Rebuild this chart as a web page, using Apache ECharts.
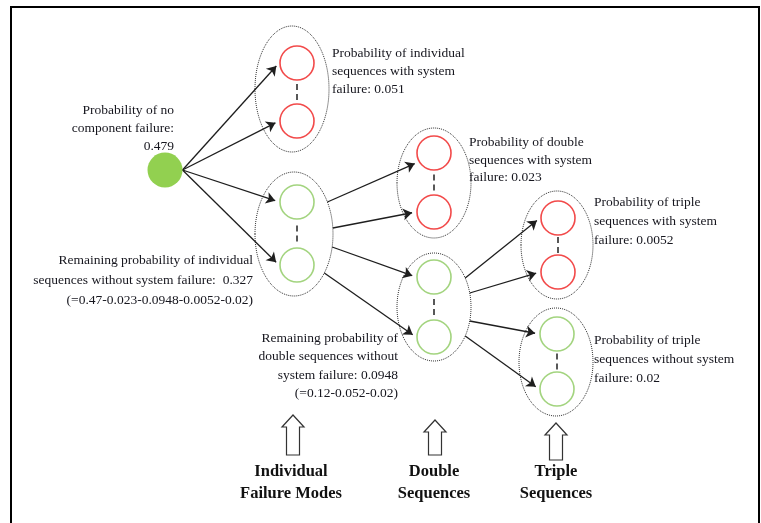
<!DOCTYPE html>
<html>
<head>
<meta charset="utf-8">
<script src="https://cdn.jsdelivr.net/npm/echarts@6/dist/echarts.min.js"></script>
<style>
html,body{margin:0;padding:0;background:#fff;}
#chart{width:761px;height:523px;}
</style>
</head>
<body>
<div id="chart"></div>
<script>
// ---------- DATA ----------
const rootProbability = 0.479;
const orderWords = ['individual', 'double', 'triple'];
const failureProb = [0.051, 0.023, 0.0052];
const survivingProb = [0.327, 0.0948, 0.02];
const survivingFormula = ['(=0.47-0.023-0.0948-0.0052-0.02)', '(=0.12-0.052-0.02)'];
const stageNames = [['Individual', 'Failure Modes'], ['Double', 'Sequences'], ['Triple', 'Sequences']];

// ---------- LAYOUT (positions / sizes / styles) ----------
const ROOT = {x: 165, y: 170, size: 35};
const GROUPS = [
  {ex: 292, ey: 89,  rx: 37, ry: 63, cx: 297, cys: [63, 121],  fail: true},
  {ex: 294, ey: 234, rx: 39, ry: 62, cx: 297, cys: [202, 265], fail: false},
  {ex: 434, ey: 183, rx: 37, ry: 55, cx: 434, cys: [153, 212], fail: true},
  {ex: 434, ey: 307, rx: 37, ry: 54, cx: 434, cys: [277, 337], fail: false},
  {ex: 557, ey: 245, rx: 36, ry: 54, cx: 558, cys: [218, 272], fail: true},
  {ex: 556, ey: 362, rx: 37, ry: 54, cx: 557, cys: [334, 389], fail: false}
];
const CIRCLE_SIZE = 34;
const EDGES = [
  {src: 'root', tg: 0, tc: 0}, {src: 'root', tg: 0, tc: 1},
  {src: 'root', tg: 1, tc: 0}, {src: 'root', tg: 1, tc: 1},
  {src: 1, sy: 202, tg: 2, tc: 0, dy: 9}, {src: 1, sy: 228, tg: 2, tc: 1},
  {src: 1, sy: 247, tg: 3, tc: 0}, {src: 1, sy: 273, tg: 3, tc: 1},
  {src: 3, sy: 278, tg: 4, tc: 0}, {src: 3, sy: 293, tg: 4, tc: 1},
  {src: 3, sy: 321, tg: 5, tc: 0}, {src: 3, sy: 336, tg: 5, tc: 1}
];
const TEXT_FONT = '13.5px "Liberation Serif", "DejaVu Serif", serif';
const BOLD_FONT = 'bold 16.5px "Liberation Serif", "DejaVu Serif", serif';
const TEXT_COLOR = '#16161e';
const RED = '#f24a4a';
const GREEN = '#a3d47f';
const ROOT_GREEN = '#92d050';

const textBlocks = [
  {x: 174, y: 101, align: 'right', lh: 18,
   text: 'Probability of no\ncomponent failure:\n' + rootProbability},
  {x: 332, y: 44, align: 'left', lh: 18,
   text: 'Probability of ' + orderWords[0] + '\nsequences with system\nfailure: ' + failureProb[0]},
  {x: 469, y: 134, align: 'left', lh: 17.5,
   text: 'Probability of ' + orderWords[1] + '\nsequences with system\nfailure: ' + failureProb[1]},
  {x: 594, y: 193, align: 'left', lh: 19,
   text: 'Probability of ' + orderWords[2] + '\nsequences with system\nfailure: ' + failureProb[2]},
  {x: 253, y: 250, align: 'right', lh: 20,
   text: 'Remaining probability of ' + orderWords[0] + '\nsequences without system failure:  ' + survivingProb[0] + '\n' + survivingFormula[0]},
  {x: 398, y: 329, align: 'right', lh: 18.5,
   text: 'Remaining probability of\n' + orderWords[1] + ' sequences without\nsystem failure: ' + survivingProb[1] + '\n' + survivingFormula[1]},
  {x: 594, y: 331, align: 'left', lh: 19,
   text: 'Probability of ' + orderWords[2] + '\nsequences without system\nfailure: ' + survivingProb[2]}
];
const STAGE_X = [291, 434, 556];
const STAGE_ARROWS = [
  {x: 293, tip: 415, bottom: 455},
  {x: 435, tip: 420, bottom: 455},
  {x: 556, tip: 423, bottom: 460}
];

// ---------- build series data ----------
const circlePts = [];
GROUPS.forEach(g => g.cys.forEach(cy => circlePts.push({value: [g.cx, cy], fail: g.fail})));

function ellipseRightX(g, y) {
  const t = (y - g.ey) / g.ry;
  return g.ex + g.rx * Math.sqrt(Math.max(0, 1 - t * t));
}
const edgeData = EDGES.map(e => {
  let start;
  if (e.src === 'root') start = [ROOT.x + ROOT.size / 2, ROOT.y];
  else start = [ellipseRightX(GROUPS[e.src], e.sy), e.sy];
  const g = GROUPS[e.tg];
  const r = CIRCLE_SIZE / 2 + 1;
  const dy = e.dy || 0;
  const end = [g.cx - Math.sqrt(r * r - dy * dy), g.cys[e.tc] + dy];
  const vx = end[0] - start[0], vy = end[1] - start[1];
  const len = Math.sqrt(vx * vx + vy * vy);
  const back = 4;
  return {coords: [start, [end[0] - vx / len * back, end[1] - vy / len * back]]};
});

const chart = echarts.init(document.getElementById('chart'), null, {renderer: 'canvas'});
chart.setOption({
  backgroundColor: '#fff',
  animation: false,
  grid: {left: 0, right: 0, top: 0, bottom: 0},
  xAxis: {type: 'value', min: 0, max: 761, show: false},
  yAxis: {type: 'value', min: 0, max: 523, inverse: true, show: false},
  graphic: [{
    type: 'rect', shape: {x: 11, y: 7, width: 748, height: 540},
    style: {fill: 'none', stroke: '#000', lineWidth: 2}, z: 100
  }],
  series: [
    {
      type: 'custom', coordinateSystem: 'cartesian2d', silent: true,
      data: GROUPS.map(g => [g.ex, g.ey, g.rx, g.ry]),
      renderItem: function (params, api) {
        const c = api.coord([api.value(0), api.value(1)]);
        const s = api.size([api.value(2), api.value(3)]);
        return {
          type: 'ellipse',
          shape: {cx: c[0], cy: c[1], rx: s[0], ry: s[1]},
          style: {fill: 'none', stroke: '#333', lineWidth: 1, lineDash: [1, 1]}
        };
      },
      z: 1
    },
    {
      type: 'custom', coordinateSystem: 'cartesian2d', silent: true,
      data: GROUPS.map(g => [g.cx, g.cys[0], g.cys[1]]),
      renderItem: function (params, api) {
        const x = api.value(0);
        const mid = (api.value(1) + api.value(2)) / 2;
        const a = api.coord([x, mid - 8]);
        const b = api.coord([x, mid + 9]);
        return {
          type: 'line', shape: {x1: a[0], y1: a[1], x2: b[0], y2: b[1]},
          style: {stroke: '#222', lineWidth: 1.5, lineDash: [6, 4]}
        };
      },
      z: 2
    },
    {
      type: 'lines', coordinateSystem: 'cartesian2d', silent: true,
      symbol: ['none', 'arrow'], symbolSize: 9,
      lineStyle: {color: '#1e1e1e', width: 1.3, opacity: 1, curveness: 0},
      data: edgeData, z: 3
    },
    {
      type: 'scatter', silent: true,
      symbol: 'circle', symbolSize: CIRCLE_SIZE,
      data: circlePts.map(p => ({
        value: p.value,
        itemStyle: {color: '#fff', borderColor: p.fail ? RED : GREEN, borderWidth: 1.6, opacity: 1}
      })),
      z: 4
    },
    {
      type: 'scatter', silent: true,
      symbol: 'circle', symbolSize: ROOT.size,
      data: [[ROOT.x, ROOT.y]],
      itemStyle: {color: ROOT_GREEN, opacity: 1},
      z: 4
    },
    {
      type: 'custom', coordinateSystem: 'cartesian2d', silent: true,
      data: STAGE_ARROWS.map(a => [a.x, a.tip, a.bottom]),
      renderItem: function (params, api) {
        const x = api.value(0), t = api.value(1), b = api.value(2);
        const hw = 11, sw = 6.5, hh = 12;
        const pts = [[x, t], [x + hw, t + hh], [x + sw, t + hh], [x + sw, b], [x - sw, b], [x - sw, t + hh], [x - hw, t + hh]]
          .map(p => api.coord(p));
        return {type: 'polygon', shape: {points: pts}, style: {fill: '#fff', stroke: '#333', lineWidth: 1.2}};
      },
      z: 4
    },
    {
      type: 'custom', coordinateSystem: 'cartesian2d', silent: true,
      data: textBlocks.map((t, i) => [t.x, t.y, i]),
      renderItem: function (params, api) {
        const b = textBlocks[params.dataIndex];
        const c = api.coord([api.value(0), api.value(1)]);
        return {
          type: 'text',
          style: {text: b.text, x: c[0], y: c[1], align: b.align, verticalAlign: 'top',
                  font: TEXT_FONT, fill: TEXT_COLOR, lineHeight: b.lh}
        };
      },
      z: 5
    },
    {
      type: 'custom', coordinateSystem: 'cartesian2d', silent: true,
      data: stageNames.map((s, i) => [STAGE_X[i], 461, i]),
      renderItem: function (params, api) {
        const c = api.coord([api.value(0), api.value(1)]);
        return {
          type: 'text',
          style: {text: stageNames[params.dataIndex].join('\n'), x: c[0], y: c[1], align: 'center',
                  verticalAlign: 'top', font: BOLD_FONT, fill: '#111', lineHeight: 22}
        };
      },
      z: 5
    }
  ]
});
</script>
</body>
</html>
